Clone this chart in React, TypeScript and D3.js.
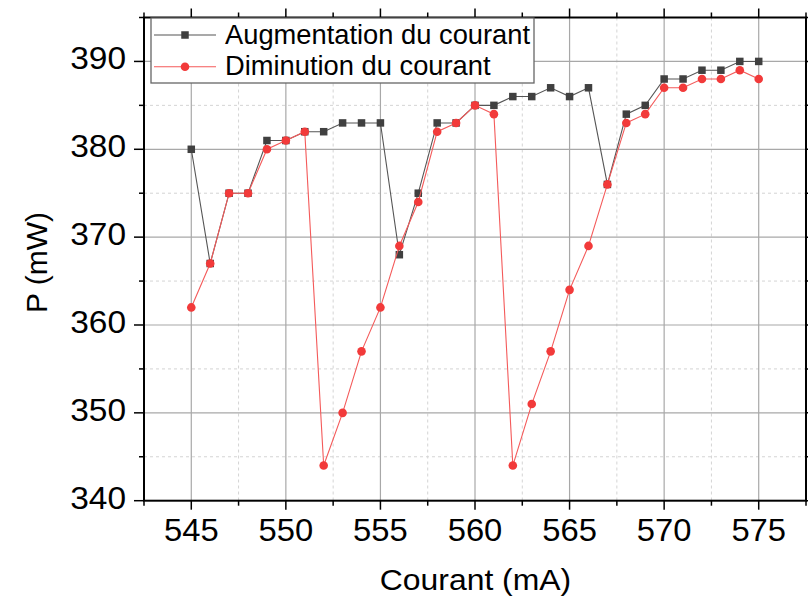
import React from "react";
import * as d3 from "d3";

const current = [545, 546, 547, 548, 549, 550, 551, 552, 553, 554, 555, 556, 557, 558, 559, 560, 561, 562, 563, 564, 565, 566, 567, 568, 569, 570, 571, 572, 573, 574, 575];
const augmentation = [380, 367, 375, 375, 381, 381, 382, 382, 383, 383, 383, 368, 375, 383, 383, 385, 385, 386, 386, 387, 386, 387, 376, 384, 385, 388, 388, 389, 389, 390, 390];
const diminution = [362, 367, 375, 375, 380, 381, 382, 344, 350, 357, 362, 369, 374, 382, 383, 385, 384, 344, 351, 357, 364, 369, 376, 383, 384, 387, 387, 388, 388, 389, 388];
const xMajorTicks = [545, 550, 555, 560, 565, 570, 575];
const xMinorTicks = [542.5, 547.5, 552.5, 557.5, 562.5, 567.5, 572.5, 577.5];
const yMajorTicks = [340, 350, 360, 370, 380, 390];
const yMinorTicks = [345, 355, 365, 375, 385, 395];
const seriesNames = ["Augmentation du courant", "Diminution du courant"];

const W = 808, H = 596;
const L = 144, R = 806, T = 17.5, B = 500.7;
const FONT = "'Liberation Sans', Arial, sans-serif";

export default function App() {
  const x = d3.scaleLinear().domain([542.5, 577.5]).range([L, R]);
  const y = d3.scaleLinear().domain([340, 395]).range([B, T]);
  const ptsA = current.map((c, i) => [c, augmentation[i]] as [number, number]);
  const ptsD = current.map((c, i) => [c, diminution[i]] as [number, number]);
  const line = d3.line<[number, number]>().x(d => x(d[0])).y(d => y(d[1]));
  const black = "#404040";
  const red = "#f23a3a";
  const sq = 7.5;
  return (
    <svg width={W} height={H} style={{ position: "absolute", left: 0, top: 0, background: "#fff" }}>
      <rect x={0} y={0} width={W} height={H} fill="#fff" />
      {xMinorTicks.filter(t => t > 543 && t < 577).map(t => (
        <line key={"gxm" + t} x1={x(t)} x2={x(t)} y1={T} y2={B} stroke="#d4d4d4" strokeDasharray="3,3" />
      ))}
      {yMinorTicks.filter(t => t < 395).map(t => (
        <line key={"gym" + t} x1={L} x2={R} y1={y(t)} y2={y(t)} stroke="#d4d4d4" strokeDasharray="3,3" />
      ))}
      {xMajorTicks.map(t => (
        <line key={"gx" + t} x1={x(t)} x2={x(t)} y1={T} y2={B} stroke="#a8a8a8" strokeWidth={1.2} />
      ))}
      {yMajorTicks.filter(t => t > 340).map(t => (
        <line key={"gy" + t} x1={L} x2={R} y1={y(t)} y2={y(t)} stroke="#a8a8a8" strokeWidth={1.2} />
      ))}
      <path d={line(ptsA) || ""} fill="none" stroke="#555" strokeWidth={1.1} />
      {ptsA.map((p, i) => (
        <rect key={"a" + i} x={x(p[0]) - sq / 2} y={y(p[1]) - sq / 2} width={sq} height={sq} fill={black} />
      ))}
      <path d={line(ptsD) || ""} fill="none" stroke="#f45a5a" strokeWidth={1.1} />
      {ptsD.map((p, i) => (
        <circle key={"d" + i} cx={x(p[0])} cy={y(p[1])} r={4.3} fill={red} />
      ))}
      <rect x={L} y={T} width={R - L} height={B - T} fill="none" stroke="#000" strokeWidth={2} />
      {xMajorTicks.map(t => (
        <g key={"tx" + t}>
          <line x1={x(t)} x2={x(t)} y1={B} y2={B + 9} stroke="#000" strokeWidth={1.5} />
          <line x1={x(t)} x2={x(t)} y1={T} y2={T - 9} stroke="#000" strokeWidth={1.5} />
        </g>
      ))}
      {xMinorTicks.map(t => (
        <g key={"txm" + t}>
          <line x1={x(t)} x2={x(t)} y1={B} y2={B + 5} stroke="#000" strokeWidth={1.5} />
          <line x1={x(t)} x2={x(t)} y1={T} y2={T - 5} stroke="#000" strokeWidth={1.5} />
        </g>
      ))}
      {yMajorTicks.map(t => (
        <g key={"ty" + t}>
          <line x1={L} x2={L - 10} y1={y(t)} y2={y(t)} stroke="#000" strokeWidth={1.5} />
          <line x1={R} x2={R + 9} y1={y(t)} y2={y(t)} stroke="#000" strokeWidth={1.5} />
        </g>
      ))}
      {yMinorTicks.map(t => (
        <g key={"tym" + t}>
          <line x1={L} x2={L - 5} y1={y(t)} y2={y(t)} stroke="#000" strokeWidth={1.5} />
          <line x1={R} x2={R + 5} y1={y(t)} y2={y(t)} stroke="#000" strokeWidth={1.5} />
        </g>
      ))}
      {xMajorTicks.map(t => (
        <g key={"lx" + t} transform={`translate(${x(t)},541) scale(1.04,1)`}>
          <text x={0} y={0} textAnchor="middle" fontFamily={FONT} fontSize={31.5} fill="#000">{t}</text>
        </g>
      ))}
      {yMajorTicks.map(t => (
        <g key={"ly" + t} transform={`translate(126,${y(t) + 8}) scale(1.08,1)`}>
          <text x={0} y={0} textAnchor="end" fontFamily={FONT} fontSize={31} fill="#000">{t}</text>
        </g>
      ))}
      <g transform={`translate(475.5,590) scale(1.1,1)`}>
        <text x={0} y={0} textAnchor="middle" fontFamily={FONT} fontSize={29} fill="#000">Courant (mA)</text>
      </g>
      <text transform={`translate(46.5,262.5) rotate(-90)`} textAnchor="middle" fontFamily={FONT} fontSize={30} fill="#000">P (mW)</text>
      <rect x={151} y={18} width={383} height={65} fill="#fff" stroke="#666" strokeWidth={1.3} />
      <line x1={154} x2={216} y1={35} y2={35} stroke="#555" strokeWidth={1.1} />
      <rect x={185 - sq / 2} y={35 - sq / 2} width={sq} height={sq} fill={black} />
      <line x1={154} x2={216} y1={66.7} y2={66.7} stroke="#f45a5a" strokeWidth={1.1} />
      <circle cx={185} cy={66.7} r={4.3} fill={red} />
      <text x={225} y={43.5} fontFamily={FONT} fontSize={27.3} fill="#000">{seriesNames[0]}</text>
      <text x={225} y={75.2} fontFamily={FONT} fontSize={27.3} fill="#000">{seriesNames[1]}</text>
    </svg>
  );
}
